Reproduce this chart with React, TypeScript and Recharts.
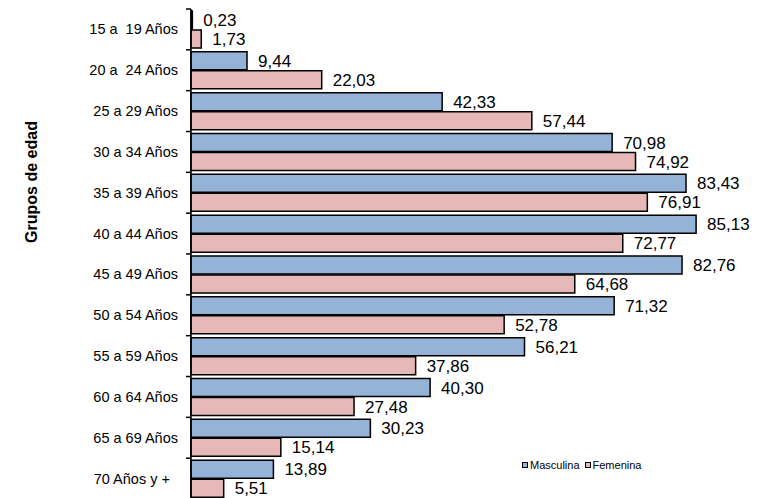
import React from 'react';
import { BarChart, Bar, XAxis, YAxis, LabelList } from 'recharts';

const categories = [
  '15 a  19 Años', '20 a  24 Años', '25 a 29 Años', '30 a 34 Años', '35 a 39 Años', '40 a 44 Años',
  '45 a 49 Años', '50 a 54 Años', '55 a 59 Años', '60 a 64 Años', '65 a 69 Años', '70 Años y +  ',
];
const masculina = [0.23, 9.44, 42.33, 70.98, 83.43, 85.13, 82.76, 71.32, 56.21, 40.3, 30.23, 13.89];
const femenina = [1.73, 22.03, 57.44, 74.92, 76.91, 72.77, 64.68, 52.78, 37.86, 27.48, 15.14, 5.51];
const seriesNames = ['Masculina', 'Femenina'];

const data = categories.map((c, i) => ({ grupo: c, Masculina: masculina[i], Femenina: femenina[i] }));

const W = 758;
const H = 498;
const M = { top: 9, right: 33, bottom: -1, left: 0 };
const AXIS_W = 191;
const BAND = (H - M.top - M.bottom) / categories.length;
const BLUE = '#95B3D7';
const PINK = '#E6B9B8';
const FONT = 'Liberation Sans, Arial, sans-serif';

const fmt = (v: any) => Number(v).toFixed(2).replace('.', ',');

const Tick = (props: any) => {
  const { y, payload, index } = props;
  const ax = AXIS_W;
  return (
    <g>
      <text x={ax - 13} y={y} dy={5} textAnchor="end" fontSize={14.5} fill="#000" fontFamily={FONT} style={{ whiteSpace: 'pre' }} xmlSpace="preserve">
        {payload.value}
      </text>
      <line x1={ax - 5} x2={ax} y1={y - BAND / 2} y2={y - BAND / 2} stroke="#000" strokeWidth={1.5} />
      {index === categories.length - 1 && (
        <line x1={ax - 5} x2={ax} y1={y + BAND / 2} y2={y + BAND / 2} stroke="#000" strokeWidth={1.5} />
      )}
    </g>
  );
};

export default function App() {
  const colors = [BLUE, PINK];
  return (
    <div style={{ position: 'absolute', left: 0, top: 0, width: W, height: H, background: '#fff', overflow: 'hidden' }}>
      <BarChart width={W} height={H} data={data} layout="vertical" margin={M} barCategoryGap={2} barGap={1}>
        <XAxis type="number" domain={[0, 90]} hide />
        <YAxis
          type="category"
          dataKey="grupo"
          width={AXIS_W}
          tick={<Tick />}
          tickLine={false}
          axisLine={{ stroke: '#000', strokeWidth: 1.5 }}
          interval={0}
          label={{
            content: () => (
              <text
                x={37}
                y={182}
                transform="rotate(-90 37 182)"
                textAnchor="middle"
                fontSize={16}
                fontWeight="bold"
                fontFamily={FONT}
                fill="#000"
              >
                Grupos de edad
              </text>
            ),
          }}
        />
        <Bar dataKey="Masculina" fill={BLUE} stroke="#000" strokeWidth={1.5} isAnimationActive={false}>
          <LabelList dataKey="Masculina" position="right" offset={11} formatter={fmt} fontSize={17} fill="#000" fontFamily={FONT} />
        </Bar>
        <Bar dataKey="Femenina" fill={PINK} stroke="#000" strokeWidth={1.5} isAnimationActive={false}>
          <LabelList dataKey="Femenina" position="right" offset={11} formatter={fmt} fontSize={17} fill="#000" fontFamily={FONT} />
        </Bar>
      </BarChart>
      <div style={{ position: 'absolute', left: 522, top: 459, display: 'flex', alignItems: 'center', fontSize: 11, fontFamily: FONT, color: '#000' }}>
        {seriesNames.map((n, i) => (
          <span key={n} style={{ display: 'flex', alignItems: 'center', marginRight: 5 }}>
            <span style={{ display: 'inline-block', width: 4, height: 4, background: colors[i], border: '1.5px solid #000', marginRight: 2 }} />
            {n}
          </span>
        ))}
      </div>
    </div>
  );
}
